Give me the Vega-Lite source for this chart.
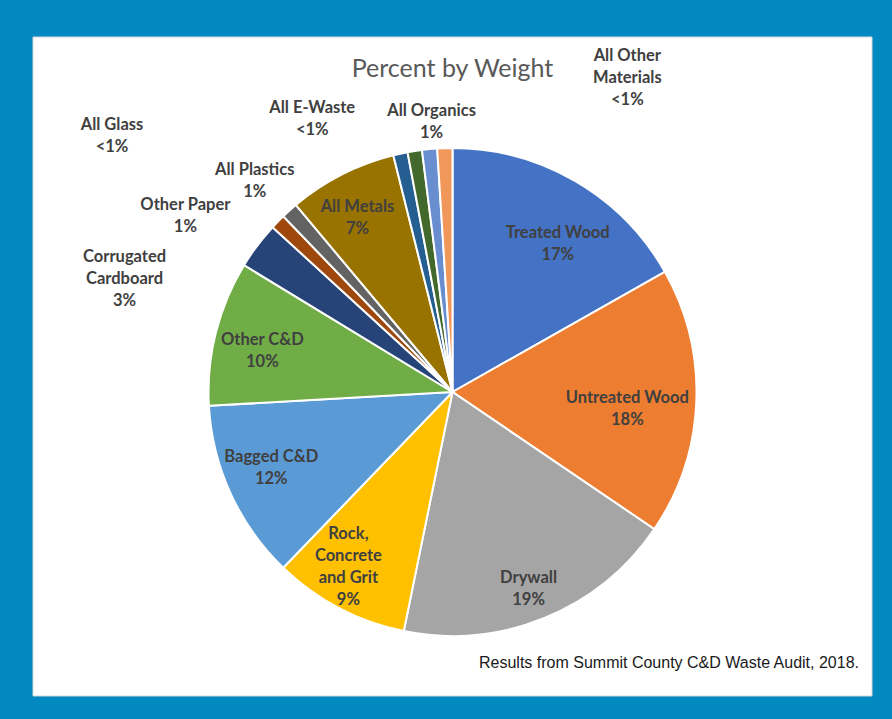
{
  "$schema": "https://vega.github.io/schema/vega-lite/v6.json",
  "autosize": "none",
  "width": 839,
  "height": 659,
  "padding": {"left": 33, "top": 37, "right": 20, "bottom": 23},
  "background": "#0289C2",
  "config": {
    "view": {"stroke": null},
    "text": {"font": "Lato", "fontSize": 16.5, "fontWeight": "bold", "color": "#404040", "lineBreak": "\n", "lineHeight": 22, "align": "center", "baseline": "middle"}
  },
  "title": {"text": "Percent by Weight", "font": "Lato", "fontSize": 25, "fontWeight": "normal", "color": "#595959", "anchor": "middle", "frame": "group", "baseline": "alphabetic", "offset": -65},
  "data": {"values": [
    {"idx": 1, "category": "Treated Wood", "value": 16.8, "label": "Treated Wood\n17%"},
    {"idx": 2, "category": "Untreated Wood", "value": 17.7, "label": "Untreated Wood\n18%"},
    {"idx": 3, "category": "Drywall", "value": 18.7, "label": "Drywall\n19%"},
    {"idx": 4, "category": "Rock, Concrete and Grit", "value": 9.0, "label": "Rock,\nConcrete\nand Grit\n9%"},
    {"idx": 5, "category": "Bagged C&D", "value": 11.9, "label": "Bagged C&D\n12%"},
    {"idx": 6, "category": "Other C&D", "value": 9.6, "label": "Other C&D\n10%"},
    {"idx": 7, "category": "Corrugated Cardboard", "value": 3.1, "label": "Corrugated\nCardboard\n3%"},
    {"idx": 8, "category": "Other Paper", "value": 1.0, "label": "Other Paper\n1%"},
    {"idx": 9, "category": "All Plastics", "value": 1.1, "label": "All Plastics\n1%"},
    {"idx": 10, "category": "All Metals", "value": 7.2, "label": "All Metals\n7%"},
    {"idx": 11, "category": "All Glass", "value": 0.95, "label": "All Glass\n<1%"},
    {"idx": 12, "category": "All E-Waste", "value": 0.95, "label": "All E-Waste\n<1%"},
    {"idx": 13, "category": "All Organics", "value": 1.0, "label": "All Organics\n1%"},
    {"idx": 14, "category": "All Other Materials", "value": 1.0, "label": "All Other\nMaterials\n<1%"}
  ]},
  "layer": [
    {
      "data": {"values": [{"panel": "background"}]},
      "mark": {"type": "rect", "fill": "white", "stroke": "#d6d6d6", "strokeWidth": 1},
      "encoding": {
        "x": {"value": 0}, "x2": {"value": "width"},
        "y": {"value": 0}, "y2": {"value": "height"}
      }
    },
    {
      "encoding": {
        "theta": {"field": "value", "type": "quantitative", "stack": true},
        "order": {"field": "idx", "type": "quantitative"}
      },
      "layer": [
        {
          "mark": {"type": "arc", "outerRadius": 244, "stroke": "white", "strokeWidth": 2, "x": {"expr": "width/2"}, "y": {"expr": "height/2 + 25.5"}},
          "encoding": {
            "color": {"field": "category", "type": "nominal", "legend": null,
              "scale": {
                "domain": ["Treated Wood", "Untreated Wood", "Drywall", "Rock, Concrete and Grit", "Bagged C&D", "Other C&D", "Corrugated Cardboard", "Other Paper", "All Plastics", "All Metals", "All Glass", "All E-Waste", "All Organics", "All Other Materials"],
                "range": ["#4472C4", "#ED7D31", "#A5A5A5", "#FFC000", "#5B9BD5", "#70AD47", "#264478", "#9E480E", "#636363", "#997300", "#255E91", "#43682B", "#698ED0", "#F1975A"]
              }}
          }
        },
        {
          "mark": {"type": "text", "radius": 195, "dx": 7, "dy": 9.5, "x": {"expr": "width/2"}, "y": {"expr": "height/2 + 25.5"}},
          "encoding": {"detail": {"field": "category"}, "text": {"condition": {"test": "datum.category === 'Treated Wood'", "field": "label"}, "value": ""}}
        },
        {
          "mark": {"type": "text", "radius": 195, "dx": -20, "dy": -2, "x": {"expr": "width/2"}, "y": {"expr": "height/2 + 25.5"}},
          "encoding": {"detail": {"field": "category"}, "text": {"condition": {"test": "datum.category === 'Untreated Wood'", "field": "label"}, "value": ""}}
        },
        {
          "mark": {"type": "text", "radius": 195, "dx": 2.6, "dy": 5.3, "x": {"expr": "width/2"}, "y": {"expr": "height/2 + 25.5"}},
          "encoding": {"detail": {"field": "category"}, "text": {"condition": {"test": "datum.category === 'Drywall'", "field": "label"}, "value": ""}}
        },
        {
          "mark": {"type": "text", "radius": 195, "dx": -13.4, "dy": -30.7, "x": {"expr": "width/2"}, "y": {"expr": "height/2 + 25.5"}},
          "encoding": {"detail": {"field": "category"}, "text": {"condition": {"test": "datum.category === 'Rock, Concrete and Grit'", "field": "label"}, "value": ""}}
        },
        {
          "mark": {"type": "text", "radius": 195, "dx": -4, "dy": -16.5, "x": {"expr": "width/2"}, "y": {"expr": "height/2 + 25.5"}},
          "encoding": {"detail": {"field": "category"}, "text": {"condition": {"test": "datum.category === 'Bagged C&D'", "field": "label"}, "value": ""}}
        },
        {
          "mark": {"type": "text", "radius": 195, "dx": -1, "dy": -5, "x": {"expr": "width/2"}, "y": {"expr": "height/2 + 25.5"}},
          "encoding": {"detail": {"field": "category"}, "text": {"condition": {"test": "datum.category === 'Other C&D'", "field": "label"}, "value": ""}}
        },
        {
          "mark": {"type": "text", "radius": 195, "dx": -6.5, "dy": -11, "x": {"expr": "width/2"}, "y": {"expr": "height/2 + 25.5"}},
          "encoding": {"detail": {"field": "category"}, "text": {"condition": {"test": "datum.category === 'All Metals'", "field": "label"}, "value": ""}}
        },
        {
          "mark": {"type": "text", "radius": 260, "dx": 183, "dy": -76, "x": {"expr": "width/2"}, "y": {"expr": "height/2 + 25.5"}},
          "encoding": {"detail": {"field": "category"}, "text": {"condition": {"test": "datum.category === 'All Other Materials'", "field": "label"}, "value": ""}}
        },
        {
          "mark": {"type": "text", "radius": 260, "dx": 3.5, "dy": -22, "x": {"expr": "width/2"}, "y": {"expr": "height/2 + 25.5"}},
          "encoding": {"detail": {"field": "category"}, "text": {"condition": {"test": "datum.category === 'All Organics'", "field": "label"}, "value": ""}}
        },
        {
          "mark": {"type": "text", "radius": 260, "dx": -100, "dy": -27, "x": {"expr": "width/2"}, "y": {"expr": "height/2 + 25.5"}},
          "encoding": {"detail": {"field": "category"}, "text": {"condition": {"test": "datum.category === 'All E-Waste'", "field": "label"}, "value": ""}}
        },
        {
          "mark": {"type": "text", "radius": 260, "dx": -285, "dy": -13, "x": {"expr": "width/2"}, "y": {"expr": "height/2 + 25.5"}},
          "encoding": {"detail": {"field": "category"}, "text": {"condition": {"test": "datum.category === 'All Glass'", "field": "label"}, "value": ""}}
        },
        {
          "mark": {"type": "text", "radius": 260, "dx": -24, "dy": -28.5, "x": {"expr": "width/2"}, "y": {"expr": "height/2 + 25.5"}},
          "encoding": {"detail": {"field": "category"}, "text": {"condition": {"test": "datum.category === 'All Plastics'", "field": "label"}, "value": ""}}
        },
        {
          "mark": {"type": "text", "radius": 260, "dx": -81, "dy": -5.4, "x": {"expr": "width/2"}, "y": {"expr": "height/2 + 25.5"}},
          "encoding": {"detail": {"field": "category"}, "text": {"condition": {"test": "datum.category === 'Other Paper'", "field": "label"}, "value": ""}}
        },
        {
          "mark": {"type": "text", "radius": 260, "dx": -120, "dy": 21, "x": {"expr": "width/2"}, "y": {"expr": "height/2 + 25.5"}},
          "encoding": {"detail": {"field": "category"}, "text": {"condition": {"test": "datum.category === 'Corrugated Cardboard'", "field": "label"}, "value": ""}}
        }
      ]
    },
    {
      "data": {"values": [{"note": "Results from Summit County C&D Waste Audit, 2018."}]},
      "mark": {"type": "text", "x": {"expr": "width - 13"}, "y": {"expr": "height - 28"}, "align": "right", "baseline": "alphabetic", "font": "Liberation Sans", "fontSize": 16, "fontWeight": "normal", "color": "#1a1a1a"},
      "encoding": {"text": {"field": "note", "type": "nominal"}}
    }
  ]
}
